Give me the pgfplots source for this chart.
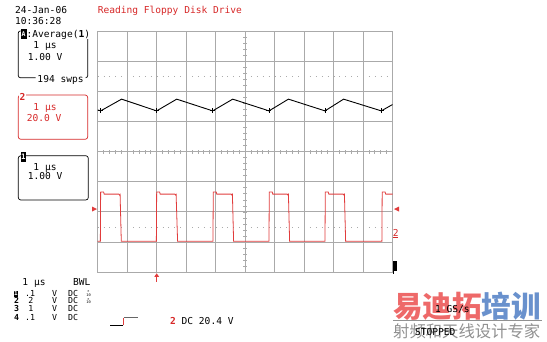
\documentclass[border=0pt]{standalone}
\usepackage{fontspec}
\usepackage{pgfplots}
\pgfplotsset{compat=1.18}
\usetikzlibrary{arrows.meta}
\newfontfamily\mono{DejaVu Sans Mono}
\newfontfamily\cjk{Noto Sans CJK SC}
\definecolor{scred}{RGB}{215,40,40}
\definecolor{trred}{RGB}{225,60,60}
\definecolor{gridc}{RGB}{170,170,170}
\definecolor{wmred}{RGB}{238,105,105}
\definecolor{wmblue}{RGB}{105,145,205}
\definecolor{wmgray}{RGB}{145,145,145}
\newcommand\T[4][black]{\node[anchor=base west,inner sep=0,text=#1] at (#2,#3) {#4};}
\newcommand\R[4][black]{\node[anchor=base west,inner sep=0,text=#1,font=\mono\fontsize{8.3}{9}\selectfont] at (#2,#3) {#4};}
\begin{document}
\begin{tikzpicture}[font=\mono\fontsize{9.6}{11}\selectfont]
\path[fill=white,use as bounding box] (0,0) rectangle (547bp,-342bp);
\begin{axis}[at={(97.7bp,-272bp)}, anchor=south west, scale only axis,
  width=294.8bp, height=240.5bp, xmin=0, xmax=10, ymin=-4, ymax=4,
  xtick={0,...,10}, ytick={-4,...,4}, xticklabels={}, yticklabels={},
  major tick length=0pt, grid=major,
  grid style={gridc, line width=0.8pt},
  axis line style={gridc, line width=0.9pt}]
\pgfplotsinvokeforeach{0.2,0.4,...,9.8}{\draw[gridc, line width=0.7pt] (axis cs:#1,-0.07) -- (axis cs:#1,0.07);}
\pgfplotsinvokeforeach{-3.8,-3.6,...,3.8}{\draw[gridc, line width=0.7pt] (axis cs:4.93,#1) -- (axis cs:5.07,#1);}
\draw[gridc, line width=0.9pt, dash pattern=on 0.9bp off 4.996bp] (axis cs:0,2.52) -- (axis cs:10,2.52);
\draw[gridc, line width=0.9pt, dash pattern=on 0.9bp off 4.996bp] (axis cs:0,-2.51) -- (axis cs:10,-2.51);
% channel 1 (black)
\addplot[black, line width=0.9pt, mark=none] coordinates {
(0,1.39) (0.10,1.36) (0.81,1.75) (2.0,1.36) (2.68,1.75) (3.9,1.36) (4.58,1.75)
(5.81,1.36) (6.47,1.75) (7.71,1.36) (8.34,1.75) (9.62,1.36) (10,1.57)};
\addplot[black, only marks, mark=+, mark size=2.5pt, mark options={line width=0.8pt}] coordinates {
(0.10,1.36) (2.0,1.36) (3.9,1.36) (5.81,1.36) (7.71,1.36) (9.62,1.36)};
% channel 2 (red)
\addplot[trred, line width=0.8pt, mark=none] coordinates {
(0,-2.98) (0.09,-2.98) (0.10,-1.34) (0.20,-1.34) (0.22,-1.41) (0.72,-1.41) (0.75,-1.45) (0.76,-1.43) (0.80,-2.98)
(1.99,-2.98) (2.00,-1.34) (2.10,-1.34) (2.12,-1.41) (2.62,-1.41) (2.65,-1.45) (2.66,-1.43) (2.71,-2.98)
(3.91,-2.98) (3.92,-1.34) (4.02,-1.34) (4.04,-1.41) (4.53,-1.41) (4.56,-1.45) (4.57,-1.43) (4.61,-2.98)
(5.81,-2.98) (5.82,-1.34) (5.92,-1.34) (5.94,-1.41) (6.43,-1.41) (6.46,-1.45) (6.47,-1.43) (6.51,-2.98)
(7.71,-2.98) (7.72,-1.34) (7.82,-1.34) (7.84,-1.41) (8.33,-1.41) (8.36,-1.45) (8.37,-1.43) (8.41,-2.98)
(9.64,-2.98) (9.65,-1.34) (9.75,-1.34) (9.77,-1.41) (10,-1.41)};
\end{axis}
\begin{scope}[x=1bp,y=-1bp]
% markers around the screen
\fill[trred] (92,206.5) -- (97,209) -- (92,211.5) -- cycle;
\fill[trred] (399,206.5) -- (394,209) -- (399,211.5) -- cycle;
\T[scred]{392.6}{236}{2}
\draw[scred, line width=0.8pt] (392.6,237.6) -- (398.4,237.6);
\fill (393.4,261) rectangle (397.2,269.5);
\fill (393.4,270.3) rectangle (396.8,271.3);
\fill (393.4,270.3) rectangle (394.4,273.8);
\draw[trred, line width=1.1pt, -{Triangle[width=4.5bp,length=3.5bp]}] (156.7,281.5) -- (156.7,273.3);
% header
\T{15}{13.4}{24-Jan-06}
\T{15}{24.8}{10:36:28}
\T[scred]{97.7}{13.4}{Reading Floppy Disk Drive}
% box A
\fill (20.5,29) rectangle (26.5,38.5);
\node[text=white, font=\mono\bfseries\fontsize{6.5}{7}\selectfont, inner sep=0] at (23.5,34) {A};
\T{26.5}{37.5}{:Average(\textbf{1})}
\T{33.3}{48}{1 µs}
\T{27.7}{60}{1.00 V}
\T{37.3}{82}{194 swps}
\draw[line width=0.7pt, rounded corners=2bp] (20.5,31) -- (18.3,31) -- (18.3,77.7) -- (35.5,77.7);
\draw[line width=0.7pt, rounded corners=2bp] (85.5,77.7) -- (87.7,77.7) -- (87.7,39);
% box 2
\draw[scred, line width=0.7pt, rounded corners=2.5bp] (18.3,95) rectangle (87.7,139.3);
\node[fill=white, text=scred, inner sep=0.3bp, font=\mono\bfseries\fontsize{9.6}{11}\selectfont] at (22.5,96.7) {2};
\T[scred]{33.3}{110}{1 µs}
\T[scred]{26.7}{121}{20.0 V}
% box 1
\draw[line width=0.7pt, rounded corners=2.5bp] (18.3,155.7) rectangle (88.3,200);
\fill (20.5,151.5) rectangle (26,162);
\node[text=white, font=\mono\bfseries\fontsize{7.5}{8}\selectfont, inner sep=0] at (23.25,157) {1};
\T{33.3}{170}{1 µs}
\T{27.7}{179.5}{1.00 V}
% bottom table
\T{22.3}{285}{1 µs}
\T{73}{285}{BWL}
\fill (14,290.5) rectangle (17.8,296.5);
\node[text=white, font=\mono\bfseries\fontsize{6}{6}\selectfont, inner sep=0] at (15.9,293.5) {1};
\R{25}{296}{.1} \R{52}{296}{V} \R{68}{296}{DC}
\node[inner sep=0, align=center, font=\mono\fontsize{3.6}{3.4}\selectfont] at (88.5,293.5) {×\\10};
\R{14}{303.5}{\textbf{2}} \R{28.3}{303.5}{2} \R{52}{303.5}{V} \R{68}{303.5}{DC}
\node[inner sep=0, align=center, font=\mono\fontsize{3.6}{3.4}\selectfont] at (88.5,301) {×\\10};
\R{14}{311.5}{\textbf{3}} \R{28.3}{311.5}{1} \R{52}{311.5}{V} \R{68}{311.5}{DC}
\R{14}{320}{\textbf{4}} \R{25}{320}{.1} \R{52}{320}{V} \R{68}{320}{DC}
% trigger
\draw[line width=0.8pt] (110,325) -- (123,325);
\draw[trred, line width=1pt] (123,325.4) -- (123,317.7);
\draw[black!60, line width=0.8pt] (123.5,317.7) -- (137.7,317.7);
\T{170}{324}{\textcolor{scred}{\textbf{2}} DC 20.4 V}
% watermark
\node[anchor=base west, inner sep=0, font=\cjk\bfseries\fontsize{29.7}{30}\selectfont] at (393,317.5) {\textcolor{wmred}{易迪拓}\textcolor{wmblue}{培训}};
\draw[wmgray, line width=1.2pt] (393,320.8) -- (541.7,320.8);
\node[anchor=base west, inner sep=0, text=wmgray, font=\cjk\fontsize{16.4}{17}\selectfont] at (393,337) {射频和天线设计专家};
\T{435}{312.7}{1 GS/s}
\T{415}{335}{STOPPED}
\end{scope}
\end{tikzpicture}
\end{document}
